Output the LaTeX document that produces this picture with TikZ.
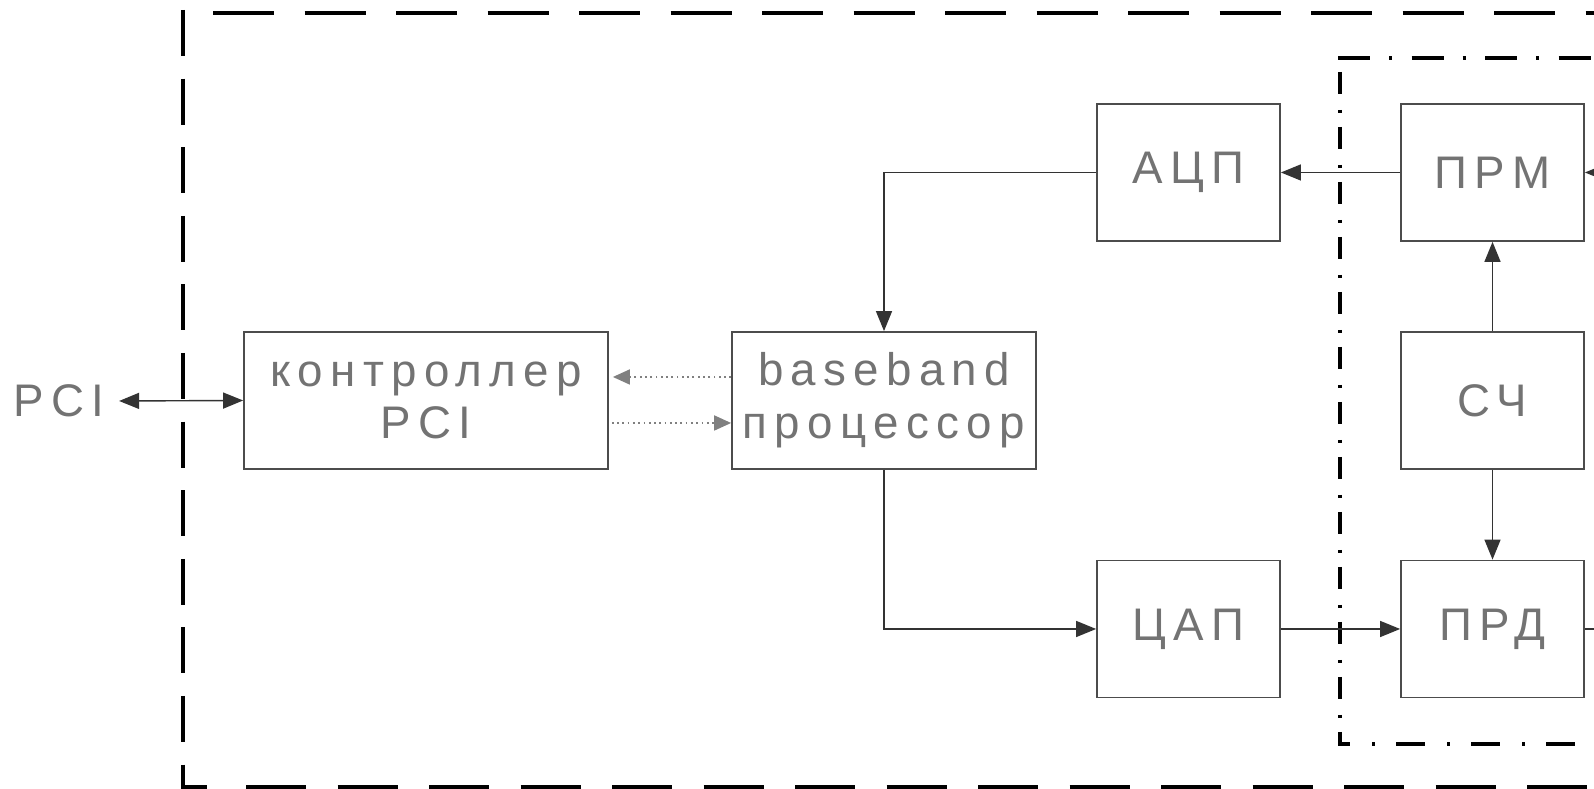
\documentclass[tikz,border=0pt]{standalone}
\usepackage{fontspec}
\newfontfamily\shrift[LetterSpace=16]{Liberation Sans}
\usetikzlibrary{arrows.meta,shapes}

\tikzset{
  blok/.style={rectangle, draw=black!70, line width=0.5pt, minimum width=1.83cm,
    minimum height=1.37cm, inner sep=0.03cm, text=black!55, align=center,
    font=\shrift\fontsize{13}{15}\selectfont},
  nadpis/.style={text=black!55, inner sep=0.14cm, font=\shrift\fontsize{13}{15}\selectfont},
  svyaz/.style={draw=black!80, line width=0.4pt, -{Triangle[length=0.2cm,width=0.16cm]}},
  tochki/.style={draw=black!50, line width=0.5pt, densely dotted,
    -{Triangle[length=0.17cm,width=0.15cm]}},
  ramka/.style={draw=black, line width=1.3pt}
}

\begin{document}
\begin{tikzpicture}
\useasboundingbox (0,0) rectangle (15.94,7.89);
\clip (0,0) rectangle (15.94,7.89);

\draw[ramka, dash pattern=on 0.61cm off 0.305cm] (2.13,7.76) -- (16.2,7.76);
\draw[ramka, dash pattern=on 0.46cm off 0.226cm] (1.83,7.79) -- (1.83,0.02) -- (2.13,0.02);
\draw[ramka, dash pattern=on 0.60cm off 0.315cm] (2.46,0.02) -- (16.2,0.02);

\draw[ramka, dash pattern=on 0.32cm off 0.19cm on 0.03cm off 0.195cm] (13.38,7.31) -- (16.2,7.31);
\draw[ramka, dash pattern=on 0.22cm off 0.16cm on 0.03cm off 0.14cm] (13.40,7.17) -- (13.40,0.58);
\draw[ramka, dash pattern=on 0.29cm off 0.22cm on 0.03cm off 0.21cm, dash phase=0.07cm]
    (13.40,0.57) -- (13.40,0.45) -- (16.2,0.45);

\node[nadpis] (pci) at (0.59,3.88) {PCI};
\node[blok, minimum width=3.64cm] (kpci) at (4.26,3.885) {контроллер\\PCI};
\node[blok, minimum width=3.04cm] (bb) at (8.84,3.885) {baseband\\процессор};
\node[blok] (acp) at (11.885,6.165) {АЦП};
\node[blok] (cap) at (11.885,1.60) {ЦАП};
\node[blok] (prm) at (14.925,6.165) {ПРМ};
\node[blok] (sch) at (14.925,3.885) {СЧ};
\node[blok] (prd) at (14.925,1.60) {ПРД};

\coordinate (vhod) at (16.2,6.165);
\coordinate (vyhod) at (16.2,1.60);

\draw[svyaz, {Triangle[length=0.2cm,width=0.16cm]}-{Triangle[length=0.2cm,width=0.16cm]}] (pci.east) -- (kpci.west);
\draw[tochki] ([yshift=0.235cm]bb.west) -- ([yshift=0.235cm,xshift=0.04cm]kpci.east);
\draw[tochki] ([yshift=-0.225cm,xshift=0.03cm]kpci.east) -- ([yshift=-0.225cm]bb.west);
\draw[svyaz] (acp.west) -| (bb.north);
\draw[svyaz] (bb.south) |- (cap.west);
\draw[svyaz] (prm.west) -- (acp.east);
\draw[svyaz] (sch.north) -- (prm.south);
\draw[svyaz] (sch.south) -- (prd.north);
\draw[svyaz] (cap.east) -- (prd.west);
\draw[svyaz] (vhod) -- (prm.east);
\draw[svyaz, -] (prd.east) -- (vyhod);
\end{tikzpicture}
\end{document}
